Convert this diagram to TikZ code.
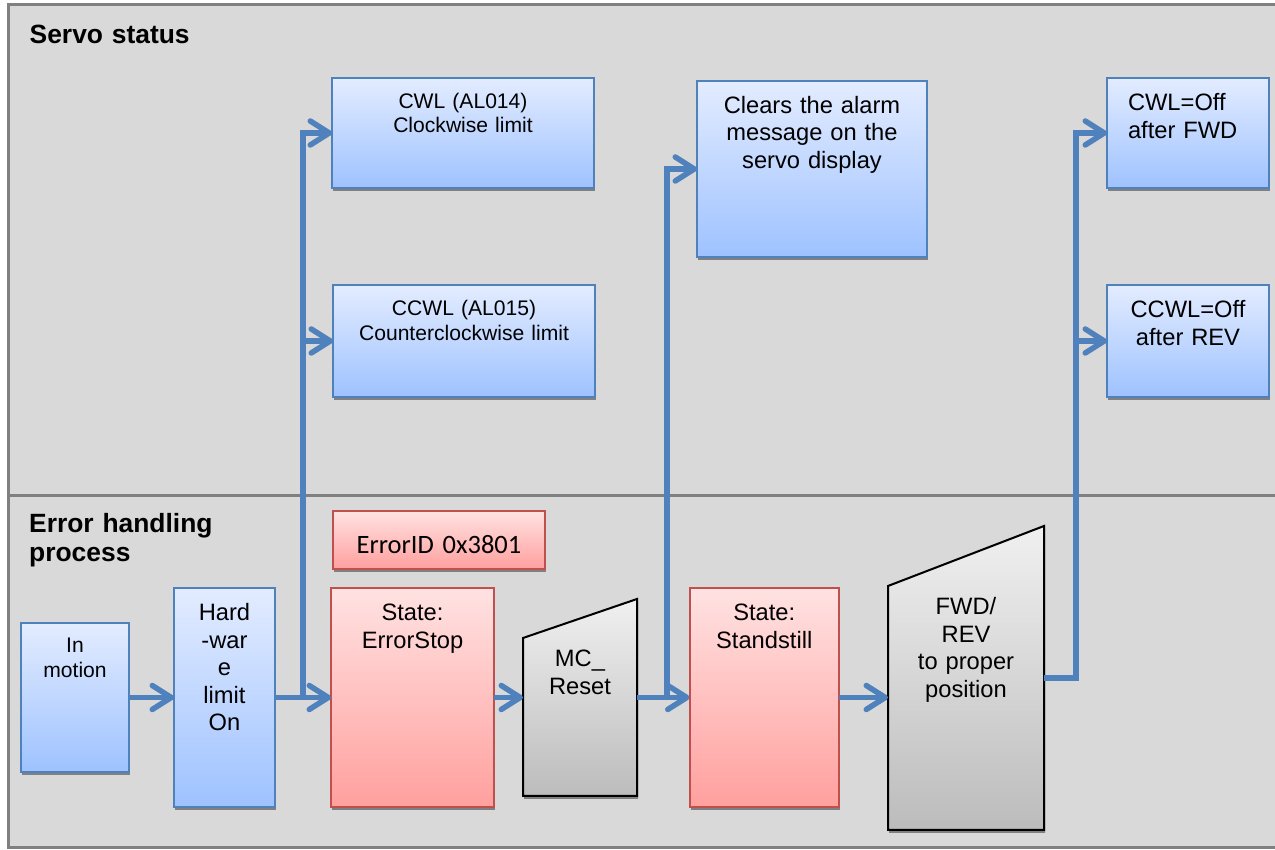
\documentclass[tikz,border=0pt]{standalone}
\usepackage{fontspec}
\setmainfont{Liberation Sans}
\newfontfamily\idfont{Carlito}
\usetikzlibrary{arrows.meta,shadows,backgrounds}

\begin{document}
\begin{tikzpicture}[x=1pt,y=1pt,
  shadowed/.style={drop shadow={shadow xshift=1pt,shadow yshift=-3pt,opacity=1,fill=shadowGray}},
  stepbox/.style={shadowed,line width=2pt,inner sep=0pt,outer sep=0pt,align=center,anchor=north west},
  bluebox/.style={stepbox,draw=lineBlue,top color=blueTop,bottom color=blueBottom},
  redbox/.style={stepbox,draw=lineRed,top color=redTop,bottom color=redBottom},
  slantbox/.style={inner sep=0pt,outer sep=0pt,align=center,anchor=north west},
  slantshape/.style={shadowed,line width=2pt,draw=black,line join=miter,top color=grayTop,bottom color=grayBottom},
  sized/.style n args={3}{text width=#1pt,text height=#2pt,text depth=#3pt},
  smalltext/.style={font=\fontsize{21.1}{24.4}\selectfont},
  bodytext/.style={font=\fontsize{23.7}{27.5}\selectfont},
  sectiontitle/.style={font=\fontsize{26.4}{29}\selectfont\bfseries,inner sep=0pt,anchor=base west,text width=300pt,align=left},
  flow/.style={draw=lineBlue,line width=5.5pt,-{Straight Barb[length=19pt,width=24pt,round]}}
]
\definecolor{panelGray}{RGB}{217,217,217}
\definecolor{frameGray}{RGB}{128,128,128}
\definecolor{shadowGray}{RGB}{128,128,128}
\definecolor{lineBlue}{RGB}{79,129,189}
\definecolor{blueTop}{RGB}{227,236,255}
\definecolor{blueBottom}{RGB}{158,194,255}
\definecolor{lineRed}{RGB}{192,80,77}
\definecolor{redTop}{RGB}{255,226,226}
\definecolor{redBottom}{RGB}{255,160,158}
\definecolor{grayTop}{RGB}{240,240,240}
\definecolor{grayBottom}{RGB}{188,188,188}
\useasboundingbox (0,0) rectangle (1275,850);

\begin{scope}[on background layer]
\path[clip] (0,0) rectangle (1275,850);
\path[fill=white] (0,0) rectangle (1275,850);
\path[fill=panelGray,draw=frameGray,line width=3pt] (8.5,2) rectangle (1290,845);
\path[draw=frameGray,line width=3pt] (8.5,354) -- (1290,354);
\end{scope}

\node[sectiontitle] (servo) at (29.5,806.7) {Servo status};
\node[sectiontitle] (errtitle) at (29,317.3) {Error handling\\process};

\node[bluebox,smalltext,sized={262}{30.3}{79.7}] (cwl) at (332,772) {CWL (AL014)\\Clockwise limit};
\node[bluebox,smalltext,sized={262}{30.7}{81.3}] (ccwl) at (333,565) {CCWL (AL015)\\Counterclockwise limit};
\node[bluebox,bodytext,sized={230}{32.3}{143.7}] (clears) at (697,769) {Clears the alarm\\message on the\\servo display};
\node[bluebox,bodytext,sized={120}{33}{77},align=left,inner xsep=21pt] (cwloff) at (1107,772) {CWL=Off\\after FWD};
\node[bluebox,bodytext,sized={162}{32.7}{79.3}] (ccwloff) at (1107,565) {CCWL=Off\\after REV};

\node[bluebox,smalltext,sized={108}{30}{119}] (motion) at (21,227) {In\\motion};
\node[bluebox,bodytext,sized={101}{32.7}{186.3}] (hwlimit) at (174,262) {Hard\\-war\\e\\limit\\On};
\node[redbox,font=\idfont\fontsize{26.5}{30}\selectfont,sized={212}{42.3}{15.7}] (errid) at (333,339) {ErrorID 0x3801};
\node[redbox,bodytext,sized={163}{32.7}{186.3}] (errstop) at (331,262) {State:\\ErrorStop};
\node[slantbox,bodytext,sized={114}{67.7}{129.3}] (reset) at (523,251) {MC\_\\Reset};
\node[redbox,bodytext,sized={149.5}{32.7}{186.3}] (still) at (689.5,262) {State:\\Standstill};
\node[slantbox,bodytext,sized={156}{89}{215}] (fwdrev) at (888,324) {FWD/\\REV\\to proper\\position};

\begin{scope}[on background layer]
\path[slantshape] (reset.south west) -- ([yshift=-39pt]reset.north west) -- (reset.north east) -- (reset.south east) -- cycle;
\path[slantshape] (fwdrev.south west) -- ([yshift=-60pt]fwdrev.north west) -- (fwdrev.north east) -- (fwdrev.south east) -- cycle;
\end{scope}

\coordinate (hwsplit) at (303,152.5);
\coordinate (resetsplit) at (667,152.5);
\coordinate (fwdturn) at (1076,172);

\draw[flow] (motion.east) -- (hwlimit.west);
\draw[flow] (hwlimit.east) -- (errstop.west);
\draw[flow] (hwsplit) |- (cwl.west);
\draw[flow] (hwsplit |- ccwl.west) -- (ccwl.west);
\draw[flow] (errstop.east) -- (reset.west);
\draw[flow] (reset.east) -- (still.west);
\draw[flow] (resetsplit) |- (clears.west);
\draw[flow] (still.east) -- (still.east -| fwdrev.west);
\draw[flow] (fwdrev.east) -- (fwdturn) |- (cwloff.west);
\draw[flow] (fwdturn |- ccwloff.west) -- (ccwloff.west);
\end{tikzpicture}
\end{document}
